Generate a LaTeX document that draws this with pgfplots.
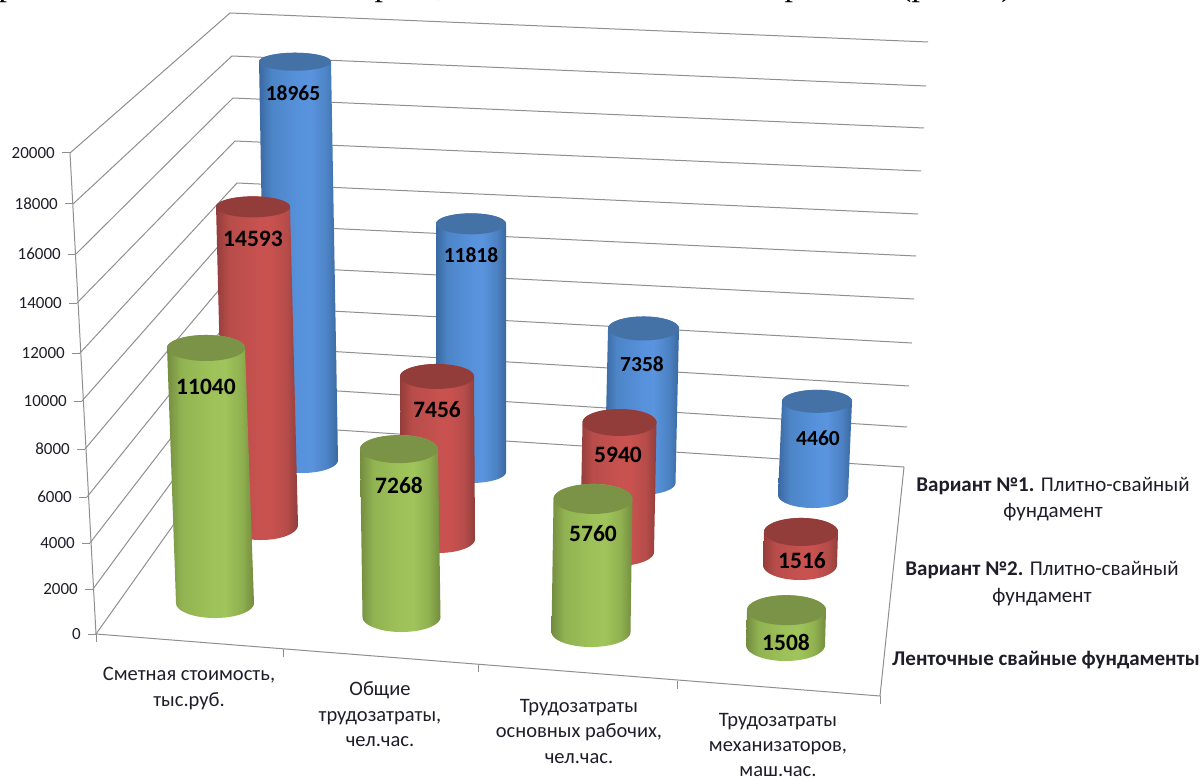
\documentclass[border=0pt]{standalone}
\usepackage{pgfplots}
\pgfplotsset{compat=1.18}
\usepackage{fontspec}
\setmainfont{Carlito}
\newfontfamily\headingfont{Liberation Serif}

\definecolor{gridgray}{HTML}{8F8F8F}
\definecolor{inktext}{HTML}{1E1E2A}
\definecolor{capblue}{HTML}{4472A6}
\definecolor{capred}{HTML}{933D3B}
\definecolor{capgreen}{HTML}{7A9346}

% Side shading of the cylinders: dark rims, bright centre
\pgfdeclarehorizontalshading{sideblue}{100bp}{
  rgb(0bp)=(0.23,0.41,0.63);
  rgb(25bp)=(0.23,0.41,0.63); rgb(33bp)=(0.30,0.52,0.78); rgb(50bp)=(0.34,0.57,0.86);
  rgb(58bp)=(0.35,0.58,0.87); rgb(68bp)=(0.30,0.51,0.77); rgb(75bp)=(0.23,0.41,0.62); rgb(100bp)=(0.23,0.41,0.62)}
\pgfdeclarehorizontalshading{sidered}{100bp}{
  rgb(0bp)=(0.58,0.24,0.23);
  rgb(25bp)=(0.58,0.24,0.23); rgb(33bp)=(0.72,0.30,0.29); rgb(50bp)=(0.78,0.32,0.31);
  rgb(58bp)=(0.79,0.32,0.31); rgb(68bp)=(0.71,0.30,0.29); rgb(75bp)=(0.57,0.24,0.23); rgb(100bp)=(0.57,0.24,0.23)}
\pgfdeclarehorizontalshading{sidegreen}{100bp}{
  rgb(0bp)=(0.45,0.55,0.25);
  rgb(25bp)=(0.45,0.55,0.25); rgb(33bp)=(0.57,0.70,0.32); rgb(50bp)=(0.62,0.76,0.35);
  rgb(58bp)=(0.63,0.77,0.36); rgb(68bp)=(0.56,0.69,0.31); rgb(75bp)=(0.45,0.55,0.25); rgb(100bp)=(0.45,0.55,0.25)}

% One command per series: \cyl<name>{base x}{base y}{half width}{base b}{top x}{top b}{value}{label x}{label y}
\newcommand\defseries[3]{%
  \expandafter\newcommand\csname cyl#1\endcsname[9]{%
    \edef\ty{\fpeval{##2-##7*#2}}%
    \addplot[draw=none,mark=none,shade,shading=side#1,shading angle=0,domain=0:360,samples=145,variable=\t]
      ({(t<=180 ? ##1 : ##5)+##3*cos(t)},{t<=180 ? ##2+##4*sin(t) : \ty+##6*sin(t)}) -- cycle;
    \addplot[draw=none,mark=none,fill=cap#1,domain=0:360,samples=61,variable=\t]
      ({##5+##3*cos(t)},{\ty+##6*sin(t)}) -- cycle;
    \addplot[draw=none,mark=none,nodes near coords,point meta=explicit symbolic,
      every node near coord/.style={anchor=center,inner sep=0pt,text=black,
        font=\fontsize{#3}{#3}\selectfont\bfseries}]
      coordinates {(##8,##9)[##7]};
  }%
}
\defseries{blue}{0.0210}{21.5}
\defseries{red}{0.0218}{23.5}
\defseries{green}{0.0231}{23.5}

\newcommand\ytick[3]{%
  \addplot[gridgray,line width=1pt,mark=none] coordinates {(#1-8,#2) (#1,#2)};
  \node[anchor=east,inner sep=0pt,text=inktext,font=\fontsize{17}{17}\selectfont] at (axis cs:#1-15,#2) {#3};
}

\begin{document}
\begin{tikzpicture}
\path[use as bounding box,clip] (0,0) rectangle (1204pt,778pt);
\begin{axis}[
  at={(0,0)},anchor=south west,
  scale only axis,width=1204pt,height=778pt,
  xmin=0,xmax=1204,ymin=0,ymax=778,y dir=reverse,
  hide axis,clip=false]

% Walls and floor
\addplot[gridgray,line width=1pt,mark=none] coordinates {(70,153) (96,634) (880,696) (904,467)};
\addplot[gridgray,line width=1pt,mark=none] coordinates {(70,153) (230,13) (928,42)};
\addplot[gridgray,line width=1pt,mark=none] coordinates {(73,204) (232,56) (926,86)};
\addplot[gridgray,line width=1pt,mark=none] coordinates {(76,254) (233,98) (924,128)};
\addplot[gridgray,line width=1pt,mark=none] coordinates {(77,303) (235,141) (921,171)};
\addplot[gridgray,line width=1pt,mark=none] coordinates {(80,353) (237,183) (918,214)};
\addplot[gridgray,line width=1pt,mark=none] coordinates {(82,401) (238,224) (916,256)};
\addplot[gridgray,line width=1pt,mark=none] coordinates {(85,449) (240,265) (914,299)};
\addplot[gridgray,line width=1pt,mark=none] coordinates {(87,497) (241,306) (912,343)};
\addplot[gridgray,line width=1pt,mark=none] coordinates {(90,543) (242,346) (909,386)};
\addplot[gridgray,line width=1pt,mark=none] coordinates {(93,589) (243,385) (907,427)};
\addplot[gridgray,line width=1pt,mark=none] coordinates {(96,634) (245,424) (904,467)};

% Axis ticks along the floor edge
\addplot[gridgray,line width=1pt,mark=none] coordinates {(96,634) (96,642)};
\addplot[gridgray,line width=1pt,mark=none] coordinates {(283,649) (283,657)};
\addplot[gridgray,line width=1pt,mark=none] coordinates {(478,664) (478,672)};
\addplot[gridgray,line width=1pt,mark=none] coordinates {(677,681) (677,689)};
\addplot[gridgray,line width=1pt,mark=none] coordinates {(880,696) (880,704)};

\ytick{70}{153}{20000}
\ytick{73}{204}{18000}
\ytick{76}{254}{16000}
\ytick{77}{303}{14000}
\ytick{80}{353}{12000}
\ytick{82}{401}{10000}
\ytick{85}{449}{8000}
\ytick{87}{497}{6000}
\ytick{90}{543}{4000}
\ytick{93}{589}{2000}
\ytick{96}{634}{0}

% Rear row
\cylblue{302}{460}{36}{13}{295}{9}{18965}{293}{93}
\cylblue{471}{472}{35}{11}{471}{10.5}{11818}{471}{255}
\cylblue{640}{483}{35.5}{12}{643.5}{12}{7358}{642}{364}
\cylblue{813}{495}{35}{13}{817}{11.5}{4460}{818}{438}
% Middle row
\cylred{261}{525}{37}{15}{253}{10.5}{14593}{253}{239}
\cylred{438}{539}{37}{14}{437}{12.5}{7456}{437}{410}
\cylred{617}{552}{37}{14}{619.5}{13.5}{5940}{618}{455}
\cylred{800}{565}{37}{15}{801}{14}{1516}{802}{561}
% Front row
\cylgreen{215}{603}{39}{15}{206}{13}{11040}{206}{387}
\cylgreen{401.5}{617}{39}{15}{399}{14}{7268}{399}{485}
\cylgreen{591}{632}{39.5}{15}{593}{15}{5760}{593}{534}
\cylgreen{785.5}{645}{39.5}{16}{786.5}{15}{1508}{786}{642}

% Category names
\node[align=center,inner sep=0pt,text=inktext,font=\fontsize{20.5}{26.5}\selectfont] at (axis cs:189,688.5) {Сметная стоимость,\\тыс.руб.};
\node[align=center,inner sep=0pt,text=inktext,font=\fontsize{20.5}{25.5}\selectfont] at (axis cs:380,714.5) {Общие\\трудозатраты,\\чел.час.};
\node[align=center,inner sep=0pt,text=inktext,font=\fontsize{20.5}{25.5}\selectfont] at (axis cs:579,731) {Трудозатраты\\основных рабочих,\\чел.час.};
\node[align=center,inner sep=0pt,text=inktext,font=\fontsize{20.5}{25}\selectfont] at (axis cs:778,744.5) {Трудозатраты\\механизаторов,\\маш.час.};

% Series names
\node[align=center,inner sep=0pt,text=inktext,font=\fontsize{21}{26.5}\selectfont] at (axis cs:1053,499) {\textbf{Вариант №1.} Плитно-свайный\\фундамент};
\node[align=center,inner sep=0pt,text=inktext,font=\fontsize{21}{26.5}\selectfont] at (axis cs:1042,583.5) {\textbf{Вариант №2.} Плитно-свайный\\фундамент};
\node[inner sep=0pt,text=inktext,font=\fontsize{21}{24}\selectfont\bfseries] at (axis cs:1046,660) {Ленточные свайные фундаменты};

% Preceding line of running text
\node[anchor=base,inner sep=0pt,font=\headingfont\fontsize{34}{34}\selectfont] at (axis cs:7,-4) {р};
\node[anchor=base,inner sep=0pt,font=\headingfont\fontsize{34}{34}\selectfont] at (axis cs:383,-4) {р};
\node[anchor=base,inner sep=0pt,font=\headingfont\fontsize{34}{34}\selectfont] at (axis cs:441,-4) {,};
\node[anchor=base,inner sep=0pt,font=\headingfont\fontsize{34}{34}\selectfont] at (axis cs:793,-4) {р};
\node[anchor=base west,inner sep=0pt,font=\headingfont\fontsize{34}{34}\selectfont] at (axis cs:900,-4) {(р};
\node[anchor=base,inner sep=0pt,font=\headingfont\fontsize{34}{34}\selectfont] at (axis cs:1007,-4) {)};
\end{axis}
\end{tikzpicture}
\end{document}
